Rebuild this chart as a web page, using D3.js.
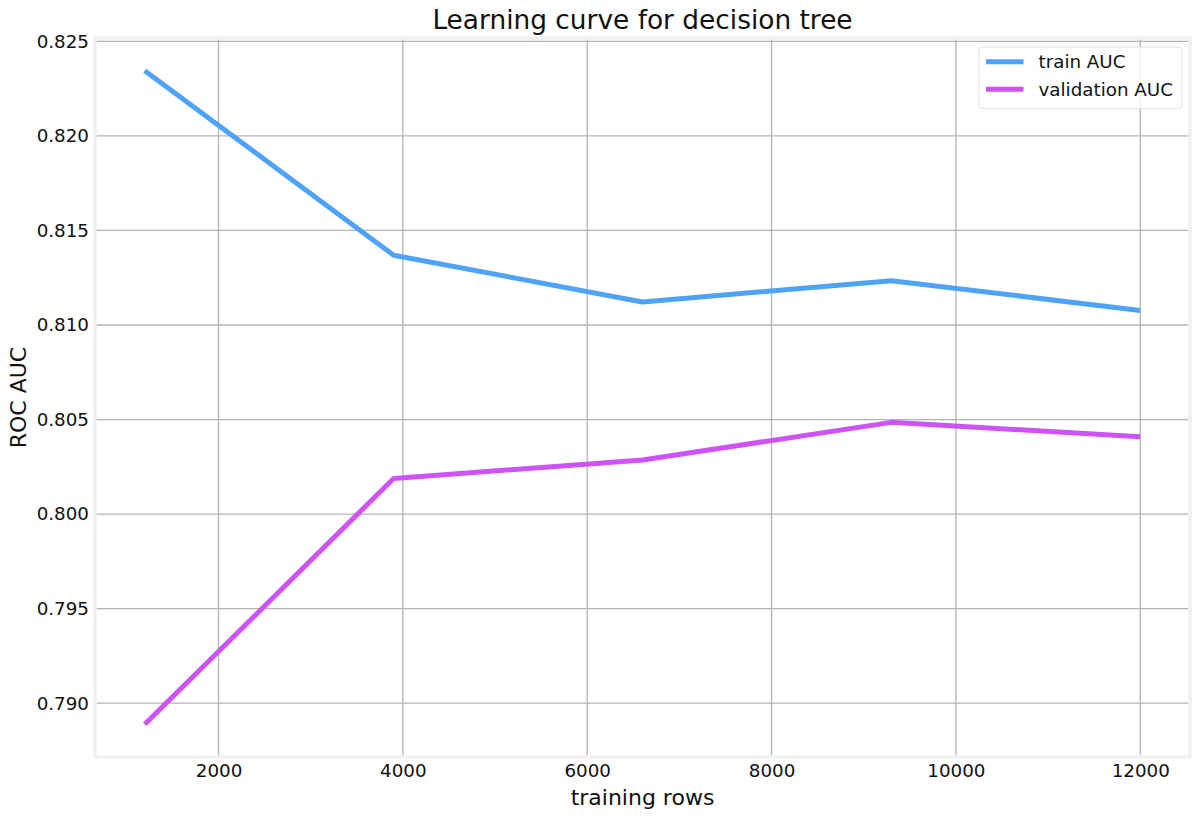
<!DOCTYPE html>
<html>
<head>
<meta charset="utf-8">
<script src="https://cdn.jsdelivr.net/npm/d3@7"></script>
<style>
  html, body { margin: 0; padding: 0; background: #ffffff; }
  svg { display: block; font-family: "DejaVu Sans", sans-serif; }
</style>
</head>
<body>
<svg id="chart" width="1200" height="818"></svg>
<script>
// ---- data ----
const trainingRows = [1200, 3900, 6600, 9300, 12000];
const trainAUC = [0.82345, 0.81369, 0.81122, 0.81234, 0.81077];
const validationAUC = [0.78888, 0.80188, 0.80286, 0.80485, 0.80409];
const xTicks = [2000, 4000, 6000, 8000, 10000, 12000];
const yTicks = [0.790, 0.795, 0.800, 0.805, 0.810, 0.815, 0.820, 0.825];
const seriesNames = ["train AUC", "validation AUC"];
const seriesColors = ["#4fa3f7", "#cd52f7"];
const titleText = "Learning curve for decision tree";
const xLabelText = "training rows";
const yLabelText = "ROC AUC";

// ---- layout ----
const svg = d3.select("#chart");
const L = 95, R = 1190, T = 38, B = 757;
const tickFont = 18.3, labelFont = 22, titleFont = 26.4;

const xMin = d3.min(trainingRows), xMax = d3.max(trainingRows);
const xPad = (xMax - xMin) * 0.05;
const x = d3.scaleLinear().domain([xMin - xPad, xMax + xPad]).range([L, R]);

const allY = trainAUC.concat(validationAUC);
const yMin = d3.min(allY), yMax = d3.max(allY);
const yPad = (yMax - yMin) * 0.05;
const y = d3.scaleLinear().domain([yMin - yPad, yMax + yPad]).range([B, T]);

// grid
const grid = svg.append("g");
grid.selectAll("line.vx").data(xTicks).enter().append("line")
  .attr("x1", d => x(d)).attr("x2", d => x(d))
  .attr("y1", T).attr("y2", B)
  .attr("stroke", "#b3b3b3").attr("stroke-width", 1.3);
grid.selectAll("line.hy").data(yTicks).enter().append("line")
  .attr("x1", L).attr("x2", R)
  .attr("y1", d => y(d)).attr("y2", d => y(d))
  .attr("stroke", "#b3b3b3").attr("stroke-width", 1.3);

// frame
svg.append("rect")
  .attr("x", L).attr("y", T).attr("width", R - L).attr("height", B - T)
  .attr("fill", "none").attr("stroke", "#f0f0f0").attr("stroke-width", 3.5);

// axes tick labels via d3 axes
const xAxis = svg.append("g").attr("transform", `translate(0,${B})`)
  .call(d3.axisBottom(x).tickValues(xTicks).tickFormat(d3.format("d")).tickSize(0).tickPadding(7));
xAxis.select(".domain").remove();
xAxis.selectAll("text").attr("font-size", tickFont).attr("fill", "#111")
  .attr("font-family", "DejaVu Sans");

const yAxis = svg.append("g").attr("transform", `translate(${L},0)`)
  .call(d3.axisLeft(y).tickValues(yTicks).tickFormat(d3.format(".3f")).tickSize(0).tickPadding(6));
yAxis.select(".domain").remove();
yAxis.selectAll("text").attr("font-size", tickFont).attr("fill", "#111")
  .attr("font-family", "DejaVu Sans");

// lines
const line = d3.line().x((d, i) => x(trainingRows[i])).y(d => y(d));
[trainAUC, validationAUC].forEach((vals, k) => {
  svg.append("path").datum(vals)
    .attr("d", line)
    .attr("fill", "none")
    .attr("stroke", seriesColors[k])
    .attr("stroke-width", 5)
    .attr("stroke-linejoin", "round")
    .attr("stroke-linecap", "butt");
});

// title & labels
svg.append("text").attr("x", (L + R) / 2).attr("y", 28.5)
  .attr("text-anchor", "middle").attr("font-size", titleFont).attr("fill", "#111")
  .text(titleText);
svg.append("text").attr("x", (L + R) / 2).attr("y", 805)
  .attr("text-anchor", "middle").attr("font-size", labelFont).attr("fill", "#111")
  .text(xLabelText);
svg.append("text")
  .attr("transform", `translate(25.5,${(T + B) / 2}) rotate(-90)`)
  .attr("text-anchor", "middle").attr("font-size", labelFont).attr("fill", "#111")
  .text(yLabelText);

// legend
const lg = svg.append("g");
lg.append("rect").attr("x", 979).attr("y", 47).attr("width", 203).attr("height", 61.5)
  .attr("rx", 3).attr("fill", "#ffffff").attr("fill-opacity", 0.8)
  .attr("stroke", "#e0e0e0").attr("stroke-width", 1);
seriesNames.forEach((name, k) => {
  const cy = 61.7 + k * 27.6;
  lg.append("line").attr("x1", 986).attr("x2", 1023.5).attr("y1", cy).attr("y2", cy)
    .attr("stroke", seriesColors[k]).attr("stroke-width", 5);
  lg.append("text").attr("x", 1038.5).attr("y", cy + 6.6)
    .attr("font-size", tickFont).attr("fill", "#111").text(name);
});
</script>
</body>
</html>
